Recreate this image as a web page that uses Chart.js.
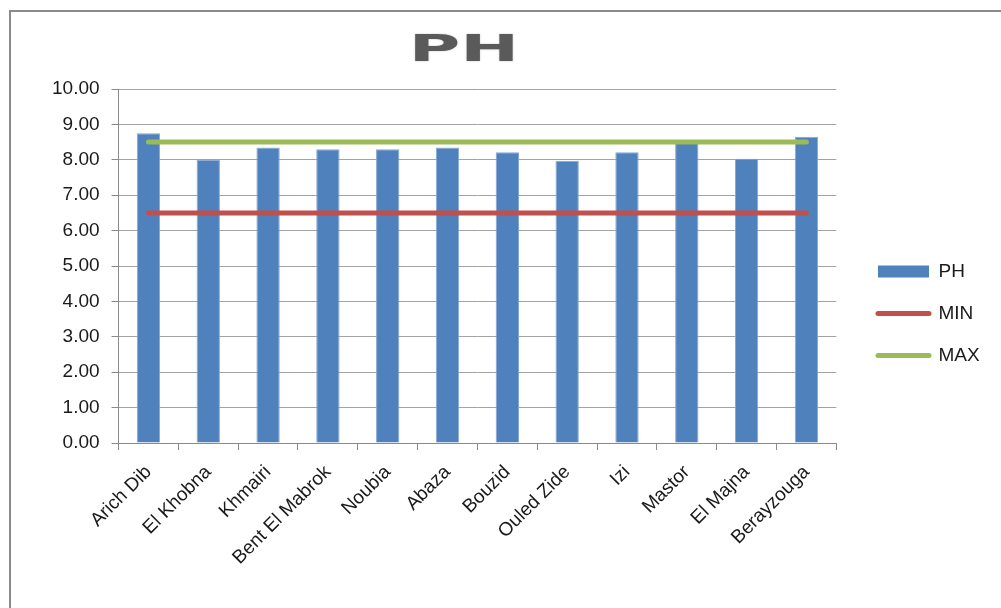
<!DOCTYPE html>
<html>
<head>
<meta charset="utf-8">
<script src="https://cdn.jsdelivr.net/npm/chart.js@4/dist/chart.umd.min.js"></script>
<style>
  html, body { margin: 0; padding: 0; background: #ffffff; overflow: hidden; }
  #wrap { position: relative; width: 1001px; height: 608px; overflow: hidden; }
  #frame { position: absolute; left: 9px; top: 10px; width: 1100px; height: 700px; border: 2px solid #8a8a8a; box-sizing: border-box; }
  #c { position: absolute; left: 0; top: 0; }
</style>
</head>
<body>
<div id="wrap">
  <div id="frame"></div>
  <canvas id="c" width="1001" height="608"></canvas>
</div>
<script>
// ---- data ----
const chartTitle = 'PH';
const categories = ['Arich Dib', 'El Khobna', 'Khmairi', 'Bent El Mabrok', 'Noubia', 'Abaza', 'Bouzid', 'Ouled Zide', 'Izi', 'Mastor', 'El Majna', 'Berayzouga'];
const phValues  = [8.75, 8.00, 8.35, 8.30, 8.30, 8.35, 8.21, 7.97, 8.21, 8.48, 8.03, 8.65];
const minValues = [6.5, 6.5, 6.5, 6.5, 6.5, 6.5, 6.5, 6.5, 6.5, 6.5, 6.5, 6.5];
const maxValues = [8.5, 8.5, 8.5, 8.5, 8.5, 8.5, 8.5, 8.5, 8.5, 8.5, 8.5, 8.5];
const seriesNames = ['PH', 'MIN', 'MAX'];
const yMin = 0, yMax = 10, yStep = 1;

const FONT = '"Liberation Sans", Arial, sans-serif';

const stretchedTitle = {
  id: 'stretchedTitle',
  afterDraw(chart) {
    const ctx = chart.ctx;
    ctx.save();
    ctx.font = 'bold 38px "DejaVu Sans", sans-serif';
    ctx.fillStyle = '#5a5a5a';
    ctx.shadowColor = 'rgba(0,0,0,0.25)';
    ctx.shadowBlur = 2;
    ctx.textAlign = 'center';
    ctx.textBaseline = 'alphabetic';
    ctx.translate(464, 61);
    ctx.scale(1.85, 1);
    ctx.fillText(chartTitle, 0, 0);
    ctx.restore();
  }
};

const legendPlacer = {
  id: 'legendPlacer',
  afterLayout(chart) {
    const lg = chart.legend;
    if (!lg) return;
    const w = lg.width, h = lg.height;
    lg.left = 855; lg.right = lg.left + w;
    lg.top = 239; lg.bottom = lg.top + h;
  }
};

new Chart(document.getElementById('c'), {
  data: {
    labels: categories,
    datasets: [
      {
        type: 'bar', label: seriesNames[0], data: phValues,
        backgroundColor: '#4f81bd', borderColor: '#86a7d3', borderWidth: 1,
        barPercentage: 0.39, categoryPercentage: 1, order: 1
      },
      {
        type: 'line', label: seriesNames[1], data: minValues,
        borderColor: '#c0504d', backgroundColor: '#c0504d', borderWidth: 5,
        pointRadius: 0, borderCapStyle: 'round', fill: false, order: 0
      },
      {
        type: 'line', label: seriesNames[2], data: maxValues,
        borderColor: '#9bbb59', backgroundColor: '#9bbb59', borderWidth: 5,
        pointRadius: 0, borderCapStyle: 'round', fill: false, order: 0
      }
    ]
  },
  options: {
    responsive: false,
    animation: false,
    devicePixelRatio: 1,
    layout: { padding: { top: 89, left: 40, right: 30, bottom: 28 } },
    plugins: {
      title: { display: false },
      tooltip: { enabled: false },
      legend: {
        position: 'right',
        align: 'start',
        labels: {
          usePointStyle: true,
          pointStyleWidth: 51,
          boxHeight: 12,
          padding: 23,
          color: '#1a1a1a',
          font: { family: FONT, size: 19 },
          sort: (a, b) => a.datasetIndex - b.datasetIndex,
          generateLabels(chart) {
            const items = Chart.defaults.plugins.legend.labels.generateLabels(chart);
            items.forEach(it => {
              const ds = chart.data.datasets[it.datasetIndex];
              if (ds.type === 'line') {
                it.pointStyle = 'line';
                it.lineWidth = 5;
                it.strokeStyle = ds.borderColor;
                it.lineCap = 'round';
              } else {
                it.pointStyle = 'rect';
                it.lineWidth = 0;
                it.fillStyle = ds.backgroundColor;
              }
            });
            return items;
          }
        }
      }
    },
    scales: {
      x: {
        offset: true,
        grid: { display: true, drawOnChartArea: false, drawTicks: true, tickLength: 7, tickColor: '#8a8a8a', offset: true },
        border: { display: true, color: '#8a8a8a', width: 1 },
        ticks: {
          autoSkip: false, maxRotation: 45, minRotation: 45, padding: 11,
          color: '#1a1a1a', font: { family: FONT, size: 19 }
        }
      },
      y: {
        min: yMin, max: yMax,
        grid: { color: '#a3a3a3', lineWidth: 1, drawTicks: true, tickLength: 7, tickColor: '#8a8a8a' },
        border: { display: true, color: '#8a8a8a', width: 1 },
        ticks: {
          stepSize: yStep, padding: 12,
          color: '#1a1a1a', font: { family: FONT, size: 19 },
          callback: v => Number(v).toFixed(2)
        }
      }
    }
  },
  plugins: [stretchedTitle, legendPlacer]
});
</script>
</body>
</html>
